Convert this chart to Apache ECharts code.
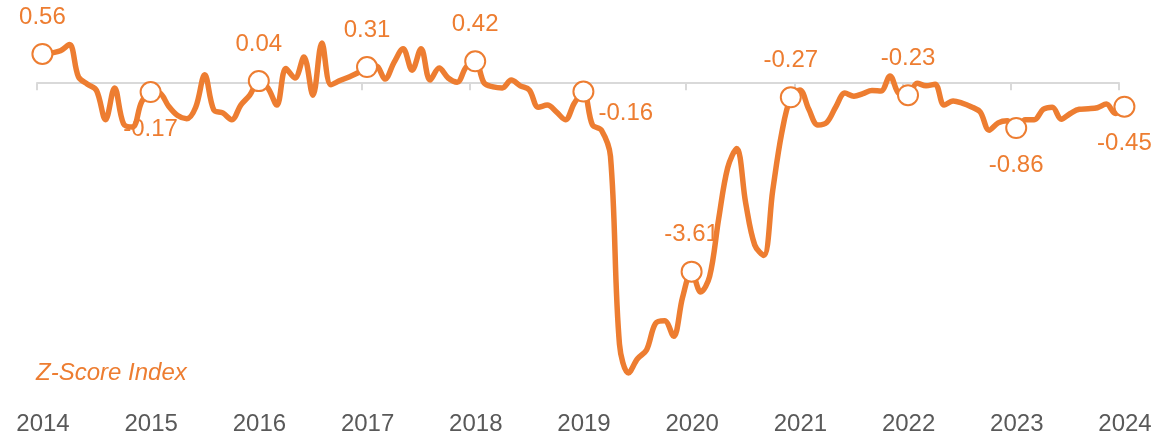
<!DOCTYPE html>
<html>
<head>
<meta charset="utf-8">
<script src="https://cdn.jsdelivr.net/npm/echarts@6/dist/echarts.min.js"></script>
<style>
  html, body { margin: 0; padding: 0; background: #fff; }
  #chart { width: 1170px; height: 439px; }
</style>
</head>
<body>
<div id="chart"></div>
<script>
// monthly z-score, first value is Jan 2014
var startYear = 2014;
var zScore = [
    0.56, 0.58, 0.62, 0.74, 0.12, -0.02, -0.14, -0.70, -0.09, -0.78, -0.84, -0.36,   // 2014
    -0.17, -0.19, -0.44, -0.62, -0.68, -0.46, 0.16, -0.51, -0.57, -0.70, -0.42, -0.23, // 2015
    0.04, -0.09, -0.42, 0.28, 0.10, 0.50, -0.23, 0.77, -0.03, 0.05, 0.12, 0.20,        // 2016
    0.31, 0.33, 0.08, 0.40, 0.66, 0.25, 0.66, 0.06, 0.29, 0.10, 0.02, 0.31,            // 2017
    0.42, 0.00, -0.07, -0.09, 0.06, -0.05, -0.13, -0.46, -0.42, -0.55, -0.70, -0.38,   // 2018
    -0.16, -0.80, -0.90, -1.40, -5.00, -5.55, -5.28, -5.11, -4.60, -4.55, -4.85, -4.10, // 2019
    -3.61, -4.00, -3.70, -2.60, -1.62, -1.25, -2.30, -3.10, -3.30, -2.05, -0.95, -0.27, // 2020
    -0.13, -0.50, -0.80, -0.75, -0.45, -0.19, -0.25, -0.20, -0.14, -0.15, 0.14, -0.20,  // 2021
    -0.23, 0.00, -0.05, -0.02, -0.42, -0.34, -0.38, -0.45, -0.55, -0.90, -0.76, -0.72,  // 2022
    -0.86, -0.70, -0.70, -0.50, -0.46, -0.69, -0.58, -0.50, -0.49, -0.47, -0.40, -0.58, // 2023
    -0.45                                                                               // 2024
];

// highlighted points: month index from Jan 2014, and label value
var markIndex = [0, 12, 24, 36, 48, 60, 72, 83, 96, 108, 120];
var markValue = [0.56, -0.17, 0.04, 0.31, 0.42, -0.16, -3.61, -0.27, -0.23, -0.86, -0.45];

var yearTicks = ['2014', '2015', '2016', '2017', '2018', '2019', '2020', '2021', '2022', '2023', '2024'];

var orange = '#ED7D31';
var labelPos = ['top', 'bottom', 'top', 'top', 'top', 'right', 'top', 'top', 'top', 'bottom', 'bottom'];

// month index -> decimal year, points sit a bit after month start
function toYear(i) {
    return startYear + (i + 0.6) / 12;
}

var lineData = [];
for (var i = 0; i < zScore.length; i++) {
    lineData.push([toYear(i), zScore[i]]);
}

var markData = [];
for (var j = 0; j < markIndex.length; j++) {
    var pos = labelPos[j];
    var lbl = { show: true, position: pos, distance: 14 };
    if (pos === 'right') {
        lbl.distance = 4;
        lbl.offset = [0, 22];
    }
    markData.push({ value: [toYear(markIndex[j]), markValue[j]], label: lbl });
}

var myChart = echarts.init(document.getElementById('chart'));
var option = {
    animation: false,
    textStyle: { fontFamily: 'Liberation Sans, Arial, sans-serif' },
    grid: { left: 37, right: 51, top: 31, bottom: 42.6 },
    xAxis: [
        {
            type: 'value',
            min: 2014,
            max: 2024,
            interval: 1,
            position: 'bottom',
            axisLine: { show: false, onZero: false },
            axisTick: { show: false },
            splitLine: { show: false },
            axisLabel: {
                color: '#595959',
                fontSize: 24,
                margin: 16,
                padding: [0, 0, 0, 12],
                formatter: function (v) { return yearTicks[v - startYear]; }
            }
        },
        {
            type: 'value',
            min: 2014,
            max: 2024,
            interval: 1,
            position: 'top',
            axisLine: { show: true, onZero: true, lineStyle: { color: '#D9D9D9', width: 2 } },
            axisTick: { show: true, inside: true, length: 7, lineStyle: { color: '#D9D9D9', width: 2 } },
            axisLabel: { show: false },
            splitLine: { show: false }
        }
    ],
    yAxis: {
        type: 'value',
        min: -6,
        max: 1,
        show: false,
        splitLine: { show: false }
    },
    graphic: [{
        type: 'text',
        left: 36,
        top: 361,
        style: {
            text: 'Z-Score Index',
            fill: orange,
            font: 'italic 24px Liberation Sans, Arial, sans-serif'
        }
    }],
    series: [
        {
            name: 'Z-Score',
            type: 'line',
            xAxisIndex: 0,
            data: lineData,
            smooth: 0.35,
            clip: false,
            showSymbol: false,
            lineStyle: { color: orange, width: 5.5 },
            z: 2
        },
        {
            name: 'marks',
            type: 'scatter',
            xAxisIndex: 0,
            data: markData,
            clip: false,
            symbol: 'circle',
            symbolSize: 20,
            itemStyle: { color: '#fff', borderColor: orange, borderWidth: 2, opacity: 1 },
            label: {
                color: orange,
                fontSize: 24,
                formatter: function (p) { return p.value[1].toFixed(2); }
            },
            z: 3
        }
    ]
};
myChart.setOption(option);
</script>
</body>
</html>
